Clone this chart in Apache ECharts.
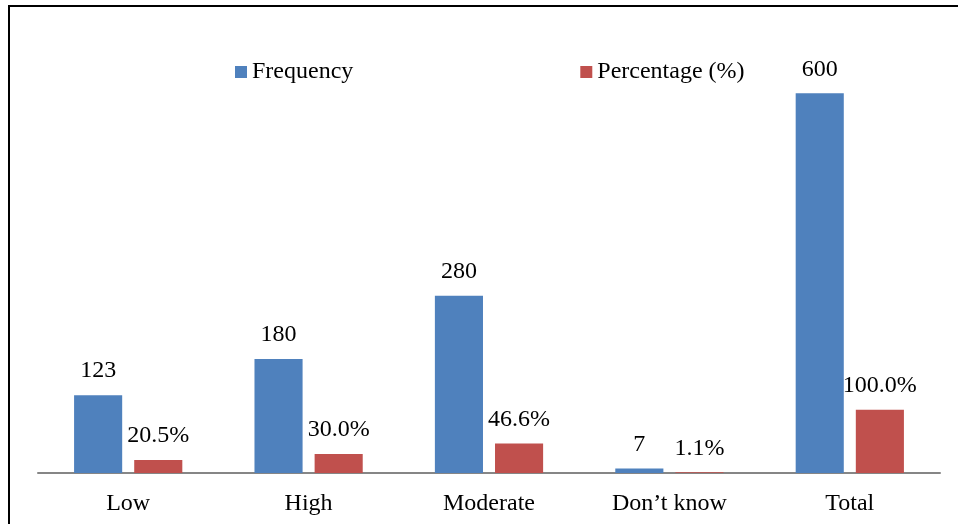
<!DOCTYPE html>
<html>
<head>
<meta charset="utf-8">
<script src="https://cdn.jsdelivr.net/npm/echarts@6/dist/echarts.min.js"></script>
<style>
  html, body { margin: 0; padding: 0; background: #fff; }
  #chart { width: 958px; height: 524px; }
</style>
</head>
<body>
<div id="chart"></div>
<script>
const categories = ['Low', 'High', 'Moderate', 'Don\u2019t know', 'Total'];
const frequency = [123, 180, 280, 7, 600];
const percentage = [20.5, 30.0, 46.6, 1.1, 100.0];

const font = '"Liberation Serif", "Times New Roman", serif';

let myChart = echarts.init(document.getElementById('chart'));
let option = {
  animation: false,
  color: ['#4f81bd', '#c0504d'],
  textStyle: { fontFamily: font },
  graphic: [{
    type: 'rect',
    shape: { x: 9, y: 6, width: 1000, height: 600 },
    style: { fill: 'none', stroke: '#000', lineWidth: 2 },
    silent: true
  }],
  legend: {
    left: 230,
    top: 55,
    itemGap: 227,
    itemWidth: 12,
    itemHeight: 12,
    icon: 'rect',
    textStyle: { fontFamily: font, fontSize: 24, color: '#000' },
    data: ['Frequency', 'Percentage (%)']
  },
  grid: { left: 38, right: 18, top: 30, bottom: 51 },
  xAxis: {
    type: 'category',
    data: categories,
    axisLine: { lineStyle: { color: '#868686', width: 2 } },
    axisTick: { show: false },
    axisLabel: { color: '#000', fontFamily: font, fontSize: 24, margin: 19 }
  },
  yAxis: {
    type: 'value',
    min: 0,
    max: 700,
    show: false,
    splitLine: { show: false }
  },
  series: [
    {
      name: 'Frequency',
      type: 'bar',
      data: frequency,
      barGap: '25%',
      barCategoryGap: '40%',
      label: {
        show: true, position: 'top', distance: 12,
        fontFamily: font, fontSize: 24, color: '#000'
      }
    },
    {
      name: 'Percentage (%)',
      type: 'bar',
      data: percentage,
      label: {
        show: true, position: 'top', distance: 12,
        fontFamily: font, fontSize: 24, color: '#000',
        formatter: p => p.value.toFixed(1) + '%'
      }
    }
  ]
};
myChart.setOption(option);
</script>
</body>
</html>
